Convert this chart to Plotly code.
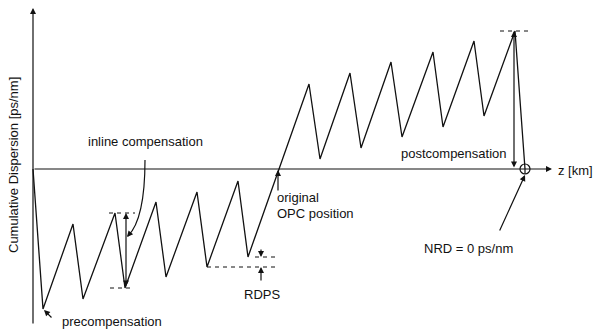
import plotly.graph_objects as go

# Dispersion map nodes (z in km, cumulative dispersion in ps/nm)
z_nodes = [0, 20, 80, 100, 164, 184, 246, 266, 328, 348, 410, 430,
           552, 574, 634, 656, 716, 738, 800, 820, 882, 902, 964, 984]
d_nodes = [0, -1400, -550, -1300, -440, -1190, -330, -1080, -230, -980, -120, -880,
           850, 100, 960, 210, 1070, 320, 1170, 420, 1280, 530, 1380, 0]

# dashed reference levels
inline_top_z = [152, 204]; inline_top_d = [-440, -440]
inline_bot_z = [154, 200]; inline_bot_d = [-1190, -1190]
rdps_top_z = [444, 484]; rdps_top_d = [-880, -880]
rdps_bot_z = [348, 484]; rdps_bot_d = [-980, -980]
peak_z = [934, 990]; peak_d = [1380, 1380]

FONT = "Liberation Sans, Arial, sans-serif"
INK = "#111111"

fig = go.Figure()
fig.add_trace(go.Scatter(x=z_nodes, y=d_nodes, mode="lines",
                         line=dict(color=INK, width=1.3), hoverinfo="skip"))
for zz, dd in [(inline_top_z, inline_top_d), (inline_bot_z, inline_bot_d),
               (rdps_top_z, rdps_top_d), (rdps_bot_z, rdps_bot_d), (peak_z, peak_d)]:
    fig.add_trace(go.Scatter(x=zz, y=dd, mode="lines",
                             line=dict(color=INK, width=1, dash="4px,4px"), hoverinfo="skip"))

def arrow(x, y, ax, ay, both=False, head=2, size=1.0):
    fig.add_annotation(x=x, y=y, ax=ax, ay=ay, xref="x", yref="y", axref="x", ayref="y",
                       text="", showarrow=True, arrowhead=head, arrowsize=size,
                       arrowwidth=1.2, arrowcolor=INK,
                       arrowside="end+start" if both else "end", startarrowhead=head,
                       startarrowsize=size)

# axes
arrow(0, 1610, 0, -1560)
arrow(1038, 0, 0, 0)
# inline compensation double arrow
arrow(186, -440, 186, -1190, both=True)
# postcompensation double arrow
arrow(962, 1380, 962, 0, both=True)
# RDPS arrows
arrow(456, -880, 456, -790)
arrow(456, -980, 456, -1130)
# OPC position arrow
arrow(490, -10, 490, -230)
# NRD arrow
arrow(984, -60, 932, -630)
# precompensation arrow
arrow(22, -1410, 40, -1500)
# curved arrow head
arrow(188, -680, 193, -650)

# curved arrow body
fig.add_shape(type="path", path="M 224,90 C 224,-300 212,-560 190,-670",
              xref="x", yref="y", line=dict(color=INK, width=1.2))
# NRD circle
fig.add_shape(type="circle", x0=974, x1=994, y0=-50, y1=50, xref="x", yref="y",
              line=dict(color=INK, width=1.2))
fig.add_shape(type="line", x0=984, x1=984, y0=0, y1=-50, xref="x", yref="y",
              line=dict(color=INK, width=1.2))

def label(x, y, t, xanchor="center", angle=0):
    fig.add_annotation(x=x, y=y, xref="x", yref="y", text=t, showarrow=False,
                       xanchor=xanchor, yanchor="middle", textangle=angle,
                       font=dict(family=FONT, size=13, color=INK))

label(224, 280, "inline compensation")
label(158, -1520, "precompensation")
label(458, -1250, "RDPS")
label(484, -280, "original", xanchor="left")
label(484, -440, "OPC position", xanchor="left")
label(842, 160, "postcompensation")
label(870, -790, "NRD = 0 ps/nm")
label(1046, -10, "z [km]", xanchor="left")
label(-40, 40, "Cumulative Dispersion [ps/nm]", angle=-90)

fig.update_layout(width=594, height=331, margin=dict(l=0, r=0, t=0, b=0),
                  paper_bgcolor="white", plot_bgcolor="white", showlegend=False,
                  xaxis=dict(range=[-66, 1122], visible=False, fixedrange=True),
                  yaxis=dict(range=[-1620, 1690], visible=False, fixedrange=True))
fig.write_html("out.html")
